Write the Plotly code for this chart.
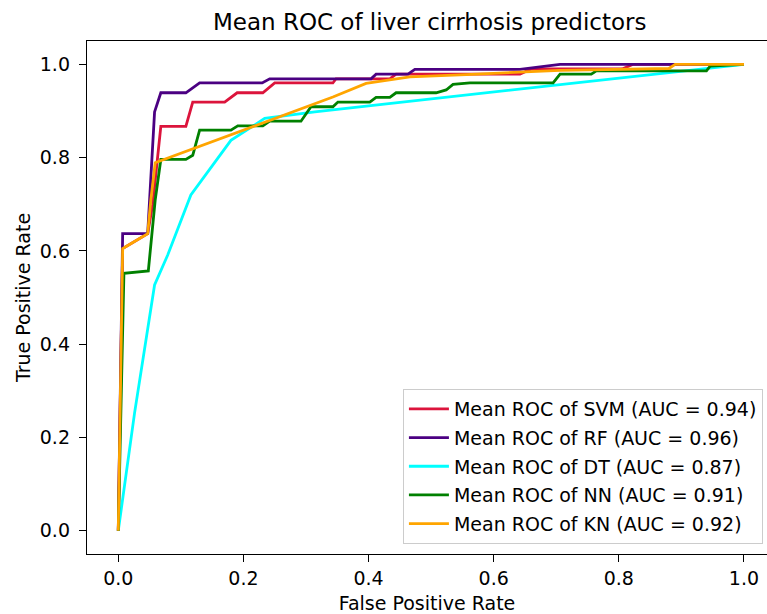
import plotly.graph_objects as go

# ---- data ----
svm_fpr = [0.0, 0.007, 0.047, 0.055, 0.068, 0.108, 0.119, 0.170, 0.190, 0.231, 0.250, 0.343, 0.348, 0.434, 0.444, 0.642, 0.660, 0.805, 0.823, 1.0]
svm_tpr = [0.0, 0.605, 0.637, 0.700, 0.867, 0.867, 0.919, 0.919, 0.939, 0.939, 0.960, 0.960, 0.969, 0.969, 0.979, 0.979, 0.990, 0.990, 1.0, 1.0]

rf_fpr = [0.0, 0.007, 0.047, 0.050, 0.058, 0.068, 0.108, 0.130, 0.230, 0.242, 0.404, 0.412, 0.463, 0.474, 0.642, 0.706, 1.0]
rf_tpr = [0.0, 0.637, 0.637, 0.709, 0.898, 0.939, 0.939, 0.960, 0.960, 0.969, 0.969, 0.979, 0.979, 0.989, 0.989, 1.0, 1.0]

dt_fpr = [0.0, 0.026, 0.058, 0.079, 0.116, 0.180, 0.234, 0.314, 0.400, 0.700, 1.0]
dt_tpr = [0.0, 0.252, 0.527, 0.591, 0.720, 0.837, 0.884, 0.898, 0.911, 0.956, 1.0]

nn_fpr = [0.0, 0.009, 0.048, 0.059, 0.068, 0.108, 0.119, 0.130, 0.180, 0.191, 0.231, 0.242, 0.292, 0.308, 0.343, 0.351, 0.402, 0.412, 0.434, 0.444, 0.508, 0.524, 0.535, 0.562, 0.695, 0.706, 0.756, 0.764, 0.940, 0.946, 1.0]
nn_tpr = [0.0, 0.552, 0.557, 0.709, 0.796, 0.796, 0.805, 0.859, 0.859, 0.868, 0.868, 0.878, 0.878, 0.909, 0.909, 0.919, 0.919, 0.929, 0.929, 0.939, 0.939, 0.945, 0.957, 0.960, 0.960, 0.979, 0.979, 0.986, 0.986, 0.996, 1.0]

kn_fpr = [0.0, 0.007, 0.047, 0.052, 0.059, 0.186, 0.290, 0.343, 0.396, 0.466, 0.556, 0.706, 0.880, 0.890, 1.0]
kn_tpr = [0.0, 0.605, 0.637, 0.709, 0.789, 0.852, 0.905, 0.930, 0.959, 0.973, 0.978, 0.987, 0.991, 1.0, 1.0]

names = ["Mean ROC of SVM (AUC = 0.94)", "Mean ROC of RF (AUC = 0.96)",
         "Mean ROC of DT (AUC = 0.87)", "Mean ROC of NN (AUC = 0.91)",
         "Mean ROC of KN (AUC = 0.92)"]
colors = ["crimson", "indigo", "cyan", "green", "orange"]
series = [(svm_fpr, svm_tpr), (rf_fpr, rf_tpr), (dt_fpr, dt_tpr), (nn_fpr, nn_tpr), (kn_fpr, kn_tpr)]

tick_vals = [0.0, 0.2, 0.4, 0.6, 0.8, 1.0]
tick_text = ["0.0", "0.2", "0.4", "0.6", "0.8", "1.0"]

FONT = "DejaVu Sans"

fig = go.Figure()
for i, ((x, y), n, c) in enumerate(zip(series, names, colors)):
    fig.add_trace(go.Scatter(x=x, y=y, mode="lines", name=n,
                             line=dict(color=c, width=2.8),
                             legendgroup=f"g{i}"))

axis_common = dict(showgrid=False, zeroline=False, showline=True, linecolor="black",
                   linewidth=1.4, ticks="outside", ticklen=7, tickwidth=1.4,
                   tickcolor="black", tickfont=dict(family=FONT, size=19, color="black"),
                   tickvals=tick_vals, ticktext=tick_text)

fig.update_layout(
    width=767, height=614,
    margin=dict(l=87, r=0, t=41, b=60),
    plot_bgcolor="white", paper_bgcolor="white",
    font=dict(family=FONT, size=19, color="black"),
    title=dict(text="Mean ROC of liver cirrhosis predictors",
               font=dict(family=FONT, size=23, color="black"),
               xref="paper", x=0.504, xanchor="center",
               yref="paper", y=1, yanchor="bottom", pad=dict(b=11)),
    xaxis=dict(range=[-0.05, 1.0368], mirror=True,
               title=dict(text="False Positive Rate", font=dict(family=FONT, size=19, color="black"), standoff=8),
               **axis_common),
    yaxis=dict(range=[-0.05, 1.05], mirror=False, ticklabelstandoff=5,
               title=dict(text="True Positive Rate", font=dict(family=FONT, size=19, color="black"), standoff=4),
               **axis_common),
    legend=dict(x=0.994, xanchor="right", y=0.0195, yanchor="bottom",
                bgcolor="rgba(255,255,255,0.8)", bordercolor="#cccccc", borderwidth=1,
                font=dict(family=FONT, size=19, color="black"),
                tracegroupgap=1, itemwidth=40),
    showlegend=True,
)

fig.write_html("out.html", config={"displayModeBar": False},
               post_script="document.body.style.margin='0px';document.body.style.overflow='hidden';")
